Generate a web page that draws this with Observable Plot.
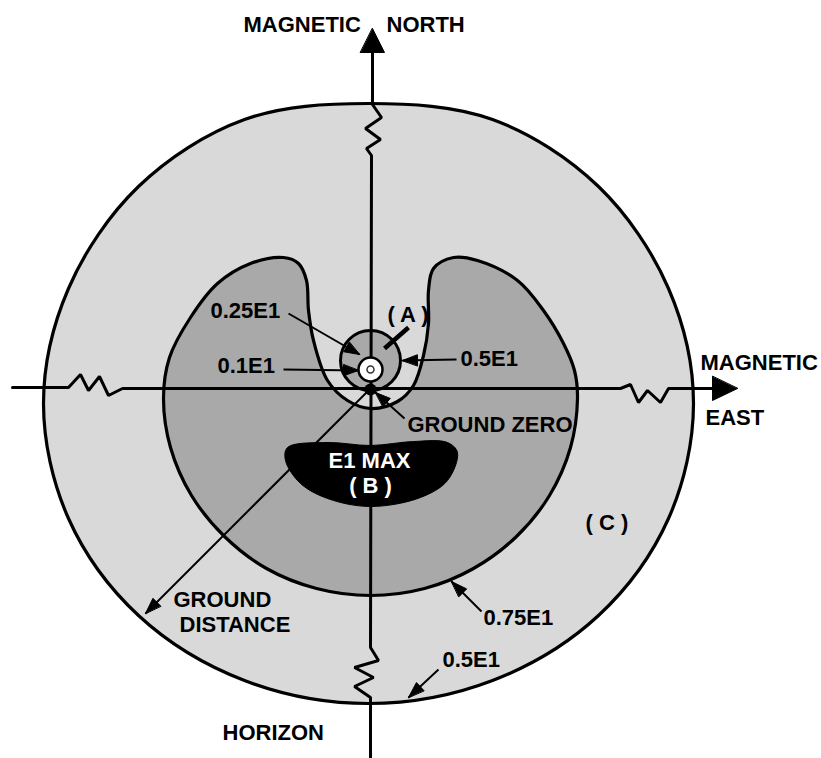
<!DOCTYPE html>
<html>
<head>
<meta charset="utf-8">
<script src="https://cdn.jsdelivr.net/npm/d3@7"></script>
<script src="https://cdn.jsdelivr.net/npm/@observablehq/plot@0.6"></script>
<style>
  html, body { margin: 0; padding: 0; background: #fff; }
  #chart svg { display: block; }
</style>
</head>
<body>
<div id="chart"></div>
<script>
// ---- Diagram geometry (picture units, y downward) ----
// Outer 0.5E1 contour (light gray ellipse)
const outerContour = [[693,403],[668,518],[598,615],[492,680],[368,703],[244,680],[138,615],[68,518],
  [43,403],[68,288],[138,186],[244,119],[368,103],[492,119],[598,186],[668,288]];
// 0.75E1 contour (kidney-shaped mid gray region)
const midContour = [[283,257],[298,263],[306,280],[308,310],[313,340],[327,380],[347,400],[370,408],
  [397,401],[413,385],[423,355],[428,323],[428,290],[433,268],[453,257],[477,260],[517,280],[543,310],
  [563,343],[574,370],[577,398],[570,447],[549,495],[516,536],[473,568],[424,588],[370,595],[316,588],
  [266,568],[224,536],[191,495],[170,447],[163,398],[169,357],[190,317],[217,283],[250,263]];
// E1 MAX region (B)
const maxRegion = [[287,447],[327,442],[370,445],[413,441],[447,442],[457,452],[447,480],[420,497],
  [370,506],[327,498],[300,483],[285,460]];
// Inner circles: 0.5E1 ring, 0.25E1 / 0.1E1 rings, ground zero
const circles = [
  {name: "0.5E1 inner", x: 370, y: 360}
];
const centerRings = [
  {name: "0.25E1", x: 370, y: 369},
  {name: "0.1E1", x: 370, y: 369},
  {name: "ground zero", x: 370, y: 389}
];
// Axes with break (zigzag) symbols
const axisNorthSouth = [[372,52],[372,104],[381,117],[365,128],[380,139],[366,148],[371,155],
  [370,647],[378,660],[354,667],[373,677],[354,686],[370,697],[370,758]];
const axisWestEast = [[12,387],[68,387],[80,374],[88,390],[99,376],[108,395],[122,388],
  [620,388],[630,384],[638,402],[647,390],[660,402],[668,388],[712,388]];
// Leader lines: from -> tip, with arrowhead length/half-width
const leaders = [
  {label: "0.25E1", x1: 288, y1: 313, x2: 359, y2: 354, head: 15, half: 5.5},
  {label: "0.1E1", x1: 283, y1: 369, x2: 358, y2: 370, head: 15, half: 5.5},
  {label: "0.5E1 inner", x1: 456, y1: 359, x2: 402, y2: 360, head: 15, half: 5.5},
  {label: "GROUND ZERO", x1: 404, y1: 418, x2: 375, y2: 392, head: 15, half: 5.5},
  {label: "GROUND DISTANCE", x1: 370, y1: 388, x2: 145, y2: 613, head: 16, half: 5.5},
  {label: "0.75E1", x1: 481, y1: 611, x2: 451, y2: 581, head: 16, half: 5.5},
  {label: "0.5E1 outer", x1: 438, y1: 669, x2: 408, y2: 697, head: 16, half: 5.5}
];
const axisHeads = [
  {label: "NORTH", x1: 372, y1: 100, x2: 372, y2: 28, head: 24, half: 12},
  {label: "EAST", x1: 650, y1: 388, x2: 737, y2: 388, head: 25, half: 12}
];
const markerA = [{x1: 408, y1: 327, x2: 384, y2: 348}];
// Labels (left edge x, vertical middle y)
const labelText = ["MAGNETIC","NORTH","MAGNETIC","EAST","0.25E1","0.1E1","( A )","0.5E1",
  "GROUND ZERO","GROUND","DISTANCE","0.75E1","0.5E1","HORIZON","( C )"];
const labelX = [243,386,700,705,210,217,387,460,407,173,179,483,442,222,585];
const labelY = [24,24,362,417,310,365,314,358,424,599,624,617,659,732,522];
const innerText = ["E1 MAX","( B )"];
const innerX = [369,370];
const innerY = [460,485];

// ---- build tables ----
const pts = (arr, id) => arr.map(([x, y], i) => ({id, i, x, y}));
function headTriangles(list) {
  const out = [];
  for (const d of list) {
    const dx = d.x2 - d.x1, dy = d.y2 - d.y1, len = Math.hypot(dx, dy);
    const ux = dx / len, uy = dy / len;
    const bx = d.x2 - ux * d.head, by = d.y2 - uy * d.head;
    const nx = -uy, ny = ux;
    out.push({id: d.label, x: d.x2, y: d.y2});
    out.push({id: d.label, x: bx + nx * d.half, y: by + ny * d.half});
    out.push({id: d.label, x: bx - nx * d.half, y: by - ny * d.half});
  }
  return out;
}
const labels = labelText.map((t, i) => ({t, x: labelX[i], y: labelY[i]}));
const inner = innerText.map((t, i) => ({t, x: innerX[i], y: innerY[i]}));

const font = "Liberation Sans, Arial, Helvetica, sans-serif";
const chart = Plot.plot({
  width: 821,
  height: 758,
  margin: 0,
  x: {domain: [0, 821], range: [0, 821], axis: null},
  y: {domain: [0, 758], range: [0, 758], axis: null},
  style: {background: "#ffffff", fontFamily: font},
  marks: [
    Plot.line(pts(outerContour, "outer"), {x: "x", y: "y", curve: "catmull-rom-closed", fill: "#d9d9d9", stroke: "#000", strokeWidth: 3.2}),
    Plot.line(pts(midContour, "mid"), {x: "x", y: "y", curve: "catmull-rom-closed", fill: "#a9a9a9", stroke: "#000", strokeWidth: 3.2}),
    Plot.line(pts(maxRegion, "max"), {x: "x", y: "y", curve: "catmull-rom-closed", fill: "#000", stroke: "#000", strokeWidth: 1}),
    Plot.dot(circles, {x: "x", y: "y", r: 30, fill: "#a9a9a9", stroke: "#000", strokeWidth: 3}),
    Plot.line(pts(axisNorthSouth, "ns"), {x: "x", y: "y", stroke: "#000", strokeWidth: 3, strokeLinejoin: "miter"}),
    Plot.line(pts(axisWestEast, "we"), {x: "x", y: "y", stroke: "#000", strokeWidth: 3, strokeLinejoin: "miter"}),
    Plot.dot(centerRings.slice(0, 1), {x: "x", y: "y", r: 12, fill: "#fff", stroke: "#000", strokeWidth: 2.5}),
    Plot.dot(centerRings.slice(1, 2), {x: "x", y: "y", r: 3.5, fill: "#fff", stroke: "#333", strokeWidth: 1.5}),
    Plot.dot(centerRings.slice(2, 3), {x: "x", y: "y", r: 6, fill: "#000"}),
    Plot.link(leaders, {x1: "x1", y1: "y1", x2: "x2", y2: "y2", stroke: "#000", strokeWidth: 2}),
    Plot.line(headTriangles(leaders.concat(axisHeads)), {x: "x", y: "y", z: "id", curve: "linear-closed", fill: "#000", stroke: "#000", strokeWidth: 1}),
    Plot.link(markerA, {x1: "x1", y1: "y1", x2: "x2", y2: "y2", stroke: "#000", strokeWidth: 4.5, strokeLinecap: "butt"}),
    Plot.text(labels, {x: "x", y: "y", text: "t", textAnchor: "start", fontSize: 22, fontWeight: "bold", fill: "#000", fontFamily: font}),
    Plot.text(inner, {x: "x", y: "y", text: "t", textAnchor: "middle", fontSize: 22, fontWeight: "bold", fill: "#fff", fontFamily: font})
  ]
});
document.getElementById("chart").appendChild(chart);
</script>
</body>
</html>
